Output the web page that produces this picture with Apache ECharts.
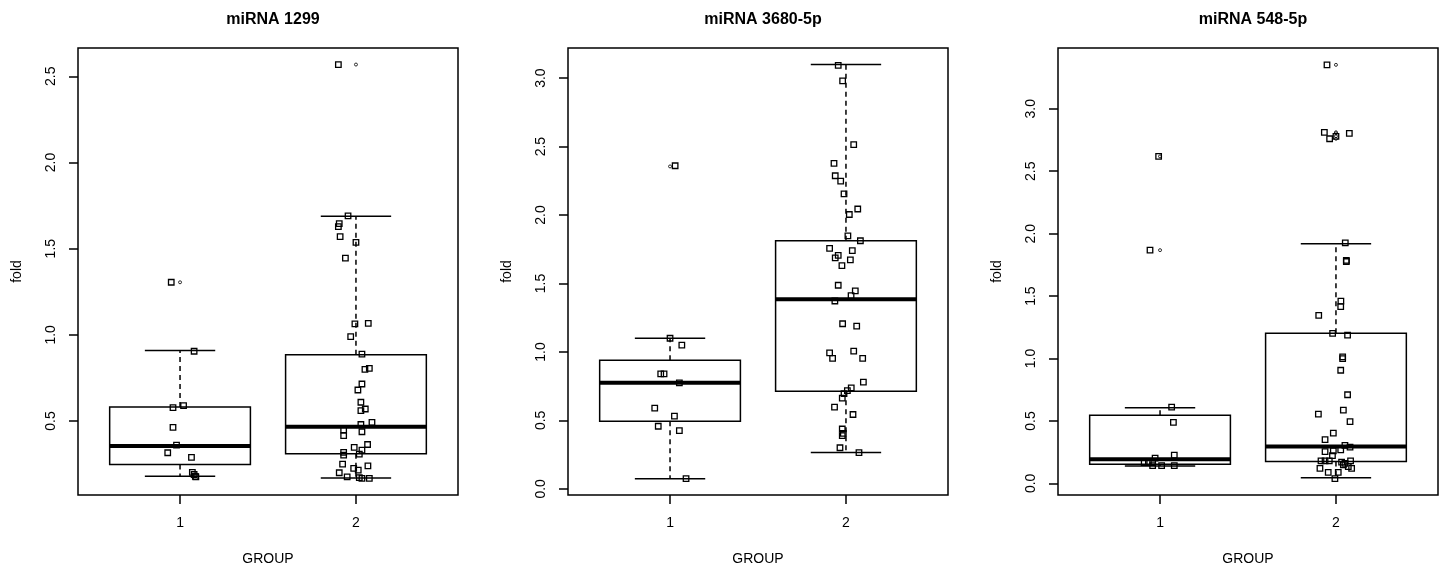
<!DOCTYPE html>
<html>
<head>
<meta charset="utf-8">
<script src="https://cdn.jsdelivr.net/npm/echarts@6/dist/echarts.min.js"></script>
<style>
  html, body { margin: 0; padding: 0; background: #fff; }
  #main { width: 1443px; height: 569px; }
</style>
</head>
<body>
<div id="main"></div>
<script>
// titres des trois panneaux
const titles = ["miRNA 1299", "miRNA 3680-5p", "miRNA 548-5p"];
const groupTicks = [1, 2];
const groupLabels = ["1", "2"];

// graduations de l'axe y par panneau
const yTicks1 = [0.5, 1.0, 1.5, 2.0, 2.5];
const yTicks2 = [0.0, 0.5, 1.0, 1.5, 2.0, 2.5, 3.0];
const yTicks3 = [0.0, 0.5, 1.0, 1.5, 2.0, 2.5, 3.0];

// limites des axes y
const yRange1 = [0.071, 2.664];
const yRange2 = [-0.045, 3.22];
const yRange3 = [-0.093, 3.487];

// boîtes : [groupe, moustache basse, Q1, médiane, Q3, moustache haute]
const box1 = [[1, 0.18, 0.248, 0.355, 0.581, 0.909], [2, 0.17, 0.31, 0.467, 0.884, 1.688]];
const box2 = [[1, 0.074, 0.494, 0.774, 0.939, 1.10], [2, 0.265, 0.713, 1.385, 1.812, 3.10]];
const box3 = [[1, 0.14, 0.153, 0.194, 0.546, 0.605], [2, 0.046, 0.175, 0.296, 1.202, 1.92]];

// valeurs aberrantes : [groupe, valeur]
const out1 = [[1, 1.305], [2, 2.568]];
const out2 = [[1, 2.355]];
const out3 = [[1, 2.619], [1, 1.868], [2, 3.352], [2, 2.812], [2, 2.804], [2, 2.78], [2, 2.76]];

// points individuels (position jitter, fold)
const pts1 = [
  [0.95, 1.305], [1.08, 0.905], [0.96, 0.578], [1.02, 0.59], [0.96, 0.463], [0.98, 0.36],
  [0.93, 0.316], [1.065, 0.289], [1.07, 0.202], [1.08, 0.19], [1.087, 0.179], [1.09, 0.176],
  [1.90, 2.568], [1.955, 1.69], [1.905, 1.645], [1.90, 1.628], [1.91, 1.57], [2.0, 1.536],
  [1.94, 1.445], [1.994, 1.064], [2.07, 1.066], [1.97, 0.99], [2.034, 0.888], [2.051, 0.80],
  [2.076, 0.806], [2.034, 0.715], [2.011, 0.68], [2.028, 0.609], [2.028, 0.56], [2.053, 0.57],
  [2.028, 0.48], [2.091, 0.492], [1.93, 0.448], [1.93, 0.415], [2.034, 0.438], [1.99, 0.347],
  [2.034, 0.331], [2.066, 0.364], [1.93, 0.318], [1.93, 0.302], [2.019, 0.308], [1.924, 0.25],
  [1.987, 0.225], [2.013, 0.215], [2.068, 0.24], [1.905, 0.20], [1.95, 0.176], [2.019, 0.172],
  [2.034, 0.167], [2.076, 0.167]
];
const pts2 = [
  [1.029, 2.36], [1.0, 1.10], [1.067, 1.049], [0.947, 0.84], [0.966, 0.84], [1.053, 0.774],
  [0.913, 0.59], [1.025, 0.531], [0.933, 0.457], [1.053, 0.425], [1.091, 0.074],
  [1.956, 3.093], [1.981, 2.98], [2.044, 2.514], [1.932, 2.378], [1.939, 2.287], [1.97, 2.247],
  [1.989, 2.154], [2.067, 2.044], [2.019, 2.004], [2.011, 1.847], [2.082, 1.812], [1.907, 1.757],
  [2.036, 1.74], [1.956, 1.705], [1.939, 1.687], [2.025, 1.673], [1.977, 1.631], [1.956, 1.487],
  [2.053, 1.446], [2.029, 1.412], [1.937, 1.372], [1.981, 1.206], [2.061, 1.188], [1.907, 0.993],
  [1.924, 0.953], [2.044, 1.006], [2.095, 0.953], [2.099, 0.779], [2.03, 0.737], [2.008, 0.717],
  [1.989, 0.695], [1.979, 0.663], [1.935, 0.597], [2.04, 0.543], [1.979, 0.437], [1.985, 0.405],
  [1.979, 0.388], [1.966, 0.30], [2.074, 0.265]
];
const pts3 = [
  [0.992, 2.619], [0.943, 1.868], [1.066, 0.61], [1.076, 0.489], [1.081, 0.226], [0.972, 0.202],
  [0.91, 0.167], [0.934, 0.167], [0.958, 0.167], [0.958, 0.142], [1.009, 0.142], [1.081, 0.142],
  [1.949, 3.352], [1.934, 2.812], [2.076, 2.804], [1.964, 2.76], [2.0, 2.78], [2.053, 1.927],
  [2.059, 1.786], [2.059, 1.777], [2.028, 1.46], [2.027, 1.416], [1.902, 1.346], [1.981, 1.202],
  [2.066, 1.188], [2.038, 1.013], [2.038, 1.0], [2.027, 0.906], [2.066, 0.71], [2.042, 0.586],
  [1.90, 0.554], [2.08, 0.495], [1.985, 0.403], [1.938, 0.35], [2.051, 0.304], [2.08, 0.29],
  [1.938, 0.255], [1.985, 0.26], [2.027, 0.269], [1.98, 0.223], [1.915, 0.18], [1.938, 0.18],
  [1.962, 0.18], [2.032, 0.17], [2.051, 0.16], [2.083, 0.18], [2.042, 0.148], [2.07, 0.134],
  [2.089, 0.121], [1.909, 0.121], [1.956, 0.089], [2.013, 0.089], [1.994, 0.038]
];

const FONT = "'Liberation Sans', Arial, sans-serif";
const chart = echarts.init(document.getElementById("main"));

const panels = [
  { left: 78, ticks: yTicks1, range: yRange1, box: box1, out: out1, pts: pts1 },
  { left: 568, ticks: yTicks2, range: yRange2, box: box2, out: out2, pts: pts2 },
  { left: 1058, ticks: yTicks3, range: yRange3, box: box3, out: out3, pts: pts3 }
];
const W = 380, TOP = 48, H = 447;

// dessin d'une boîte à moustaches façon R
function renderBox(params, api) {
  const g = api.value(0);
  const lo = api.value(1), q1 = api.value(2), med = api.value(3), q3 = api.value(4), hi = api.value(5);
  const c = (x, y) => api.coord([x, y]);
  const line = (a, b, extra) => ({
    type: "line",
    shape: { x1: a[0], y1: a[1], x2: b[0], y2: b[1] },
    style: Object.assign({ stroke: "#000", lineWidth: 1.5 }, extra || {})
  });
  const tl = c(g - 0.4, q3), br = c(g + 0.4, q1);
  return {
    type: "group",
    children: [
      line(c(g, q3), c(g, hi), { lineDash: [5, 4] }),
      line(c(g, q1), c(g, lo), { lineDash: [5, 4] }),
      line(c(g - 0.2, hi), c(g + 0.2, hi)),
      line(c(g - 0.2, lo), c(g + 0.2, lo)),
      {
        type: "rect",
        shape: { x: tl[0], y: tl[1], width: br[0] - tl[0], height: br[1] - tl[1] },
        style: { fill: "none", stroke: "#000", lineWidth: 1.5 }
      },
      line(c(g - 0.4, med), c(g + 0.4, med), { lineWidth: 4 })
    ]
  };
}

const option = {
  animation: false,
  backgroundColor: "#fff",
  title: [],
  grid: [],
  xAxis: [],
  yAxis: [],
  series: []
};

panels.forEach((p, i) => {
  option.title.push({
    text: titles[i],
    left: p.left + W / 2,
    top: 7,
    textAlign: "center",
    textStyle: { fontFamily: FONT, fontSize: 16, fontWeight: "bold", color: "#000" }
  });
  option.grid.push({
    left: p.left, top: TOP, width: W, height: H,
    show: true, borderColor: "#000", borderWidth: 1.5, backgroundColor: "transparent",
    outerBoundsMode: "none"
  });
  option.xAxis.push({
    gridIndex: i, type: "value", min: 0.42, max: 2.58,
    axisLine: { show: false, onZero: false },
    splitLine: { show: false },
    axisTick: { show: true, customValues: groupTicks, length: 9, lineStyle: { color: "#000", width: 1.5 } },
    axisLabel: {
      customValues: groupTicks, margin: 21, color: "#000", fontFamily: FONT, fontSize: 14,
      formatter: (v) => groupLabels[groupTicks.indexOf(v)]
    },
    name: "GROUP", nameLocation: "middle", nameGap: 57,
    nameTextStyle: { fontFamily: FONT, fontSize: 14, color: "#000" }
  });
  option.yAxis.push({
    gridIndex: i, type: "value", min: p.range[0], max: p.range[1],
    axisLine: { show: false, onZero: false },
    splitLine: { show: false },
    axisTick: { show: true, customValues: p.ticks, length: 9, lineStyle: { color: "#000", width: 1.5 } },
    axisLabel: {
      customValues: p.ticks, margin: 20, rotate: 90, color: "#000", fontFamily: FONT, fontSize: 14,
      formatter: (v) => v.toFixed(1)
    },
    name: "fold", nameLocation: "middle", nameGap: 54, nameRotate: 90,
    nameTextStyle: { fontFamily: FONT, fontSize: 14, color: "#000" }
  });
  option.series.push({
    type: "custom", xAxisIndex: i, yAxisIndex: i,
    renderItem: renderBox, data: p.box, silent: true, z: 2
  });
  option.series.push({
    type: "scatter", xAxisIndex: i, yAxisIndex: i, data: p.pts,
    symbol: "rect", symbolSize: 5.5, silent: true, z: 3,
    itemStyle: { color: "rgba(255,255,255,0)", borderColor: "#000", borderWidth: 1.3, opacity: 1 }
  });
  option.series.push({
    type: "scatter", xAxisIndex: i, yAxisIndex: i, data: p.out,
    symbol: "circle", symbolSize: 3, silent: true, z: 3,
    itemStyle: { color: "rgba(255,255,255,0)", borderColor: "#000", borderWidth: 1 }
  });
});

chart.setOption(option);
</script>
</body>
</html>
